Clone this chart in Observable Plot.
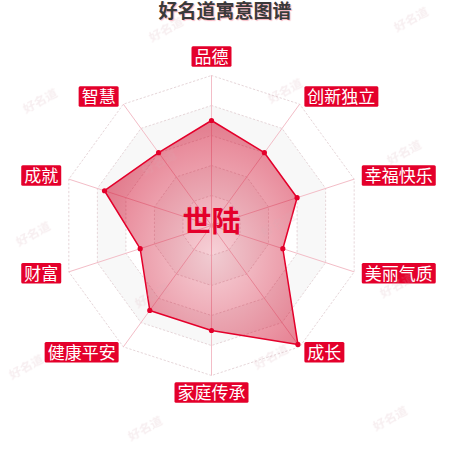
<!DOCTYPE html>
<html><head><meta charset="utf-8">
<script src="https://cdn.jsdelivr.net/npm/d3@7"></script>
<script src="https://cdn.jsdelivr.net/npm/@observablehq/plot@0.6"></script>
<style>
html,body{margin:0;padding:0;background:#fff;}
#wrap{position:relative;width:450px;height:450px;overflow:hidden;}
#title{height:22px;line-height:24px;text-align:center;font-family:"Liberation Sans","Noto Sans CJK SC",sans-serif;font-size:19px;font-weight:bold;color:#3a3a3a;text-shadow:1px 1px 1px rgba(230,0,40,0.3);white-space:nowrap;}
#chart svg{display:block;font-family:"Noto Sans CJK SC","Noto Sans",sans-serif;}
#wm{position:absolute;left:0;top:0;pointer-events:none;}
</style></head><body><div id="wrap"><div id="title"></div><div id="chart"></div></div>
<script>
const title = "好名道寓意图谱";
const personName = "世陆";
const watermarkText = "好名道";
const categories = ["品德","创新独立","幸福快乐","美丽气质","成长","家庭传承","健康平安","财富","成就","智慧"];
const values = [70, 60, 60, 50, 98, 70, 70, 50, 75, 60];
const maxValue = 100;
const levels = [0.2, 0.4, 0.6, 0.8, 1.0];

const RED = "#e4002b";
const n = categories.length;
const angle = i => 2 * Math.PI * i / n;
const polar = (i, r) => ({x: r * Math.sin(angle(i)), y: r * Math.cos(angle(i))});

const points = categories.map((c, i) => ({name: c, value: values[i], ...polar(i, values[i] / maxValue)}));
const rings = levels.flatMap(l => categories.map((c, i) => ({level: l, ...polar(i, l)})));
const spokes = categories.map((c, i) => ({name: c, x1: 0, y1: 0, x2: polar(i, 1).x, y2: polar(i, 1).y}));
const labelR = 1.0533;
const labels = categories.map((c, i) => {
  const s = Math.sin(angle(i)), co = Math.cos(angle(i));
  const pos = Math.abs(s) < 1e-6 ? (co > 0 ? "top" : "bottom") : (s > 0 ? "right" : "left");
  return {name: c, pos, ...polar(i, labelR)};
});
const ring = l => rings.filter(d => d.level === l);

document.getElementById("title").textContent = title;

const labelMark = (pos, opts) => Plot.text(labels.filter(d => d.pos === pos), {
  x: "x", y: "y", text: "name", fill: "white", fontSize: 17, lineAnchor: "middle", ...opts
});

const svg = Plot.plot({
  width: 450, height: 428, margin: 0,
  x: {domain: [-211 / 150, 239 / 150], axis: null},
  y: {domain: [-1.5, 203 / 150], axis: null},
  style: {fontFamily: "'Noto Sans CJK SC', sans-serif", background: "white", overflow: "visible"},
  marks: [
    // split areas
    Plot.line(ring(0.8), {x: "x", y: "y", curve: "linear-closed", fill: "#f8f8f8", stroke: "none"}),
    Plot.line(ring(0.6), {x: "x", y: "y", curve: "linear-closed", fill: "white", stroke: "none"}),
    Plot.line(ring(0.4), {x: "x", y: "y", curve: "linear-closed", fill: "#f8f8f8", stroke: "none"}),
    Plot.line(ring(0.2), {x: "x", y: "y", curve: "linear-closed", fill: "white", stroke: "none"}),
    // rings
    Plot.line(rings, {x: "x", y: "y", z: "level", curve: "linear-closed", stroke: "#e6d6d9", strokeWidth: 1, strokeDasharray: "1.5,2.5"}),
    // spokes
    Plot.link(spokes, {x1: "x1", y1: "y1", x2: "x2", y2: "y2", stroke: "#f3bdc7", strokeWidth: 1}),
    // data polygon
    Plot.line(points, {x: "x", y: "y", curve: "linear-closed", fill: "url(#areaGrad)", stroke: RED, strokeWidth: 1.5}),
    Plot.dot(points, {x: "x", y: "y", r: 2.6, fill: RED, stroke: "none"}),
    // center name
    Plot.text([{name: personName, x: 0, y: 0}], {x: "x", y: "y", text: "name", fill: RED, fontSize: 29, fontWeight: "bold", lineAnchor: "middle", dy: -3}),
    // axis labels
    labelMark("top", {textAnchor: "middle", dy: -10}),
    labelMark("bottom", {textAnchor: "middle", dy: 10}),
    labelMark("right", {textAnchor: "start", dx: 3}),
    labelMark("left", {textAnchor: "end", dx: -3})
  ]
});
document.getElementById("chart").appendChild(svg);

const root = d3.select(svg);
const defs = root.insert("defs", ":first-child");
const grad = defs.append("radialGradient").attr("id", "areaGrad")
  .attr("cx", 0.56).attr("cy", 0.6).attr("r", 0.6);
grad.append("stop").attr("offset", "0%").attr("stop-color", "rgb(205,0,35)").attr("stop-opacity", 0.18);
grad.append("stop").attr("offset", "100%").attr("stop-color", "rgb(205,0,35)").attr("stop-opacity", 0.5);

// label boxes
const catSet = new Set(categories);
root.selectAll("text").filter(function () { return catSet.has(this.textContent); }).each(function () {
  const b = this.getBBox();
  const cy = b.y + b.height / 2 + 1;
  const rect = document.createElementNS("http://www.w3.org/2000/svg", "rect");
  const t = this.getAttribute("transform");
  if (t) rect.setAttribute("transform", t);
  rect.setAttribute("x", b.x - 3);
  rect.setAttribute("width", b.width + 6);
  rect.setAttribute("y", cy - 10.25);
  rect.setAttribute("height", 20.5);
  rect.setAttribute("rx", 1.5);
  rect.setAttribute("fill", RED);
  this.parentNode.insertBefore(rect, this);
});

// watermark tiling overlay over whole picture
const wm = d3.select("#wrap").append("svg").attr("id", "wm").attr("width", 450).attr("height", 450);
const pat = wm.append("defs").append("pattern").attr("id", "wmPat").attr("patternUnits", "userSpaceOnUse")
  .attr("width", 245).attr("height", 133)
  .attr("patternTransform", "matrix(1,-0.0408,-0.0526,1,107,-1)");
[[61, 33], [183.5, 99.5]].forEach(([x, y]) => {
  pat.append("text").attr("transform", `translate(${x},${y}) rotate(-28)`)
    .attr("text-anchor", "middle").attr("dy", "0.35em")
    .attr("font-size", 12).attr("font-weight", "bold")
    .attr("font-family", "'Noto Sans CJK SC', sans-serif")
    .attr("fill", "#d9aab2").attr("fill-opacity", 0.2)
    .text(watermarkText);
});
wm.append("rect").attr("width", 450).attr("height", 450).attr("fill", "url(#wmPat)");
</script>
</body></html>
